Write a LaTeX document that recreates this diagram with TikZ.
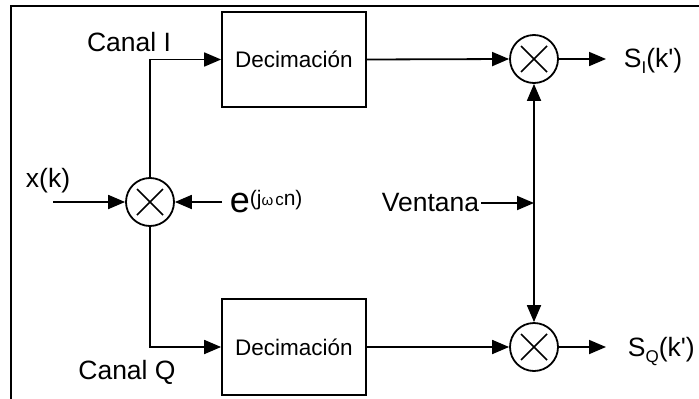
\documentclass[tikz,border=0pt]{standalone}
\usepackage{fontspec}
\setmainfont{Liberation Sans}
\usetikzlibrary{arrows.meta}
\begin{document}
\begin{tikzpicture}[x=1pt,y=-1pt, line width=1.8pt,
  >={Triangle[length=17pt,width=14pt]},
  blk/.style={draw, rectangle, minimum width=144pt, minimum height=95pt, inner sep=0pt, font=\fontsize{22.5}{26}\selectfont},
  mult/.style={draw, circle, minimum size=48pt, inner sep=0pt,
    path picture={\draw[line width=1.5pt] (path picture bounding box.center) +(-13pt,-13pt) -- +(13pt,13pt) +(-13pt,13pt) -- +(13pt,-13pt);}},
  lbl/.style={font=\fontsize{26.5}{30}\selectfont, inner sep=1pt}]
\useasboundingbox (0,0) rectangle (699,399);
% frame
\draw[line width=2.4pt] (11,405) -- (11,6) -- (705,6);
% blocks
\node[blk] (dec1) at (294,59.5) {Decimación};
\node[blk, minimum height=96pt] (dec2) at (294,347) {Decimación};
\node[mult] (m1) at (150,202) {};
\node[mult] (m2) at (534,59) {};
\node[mult] (m3) at (534,347) {};
% labels
\node[lbl] (cI) at (129,42) {Canal I};
\node[lbl] (cQ) at (127,372) {Canal Q};
\node[lbl] (xk) at (48,181) {x(k)};
\node[anchor=base west, inner sep=0pt] (elbl) at (229,212) {\fontsize{36}{40}\selectfont e\raisebox{7pt}{\fontsize{21}{24}\selectfont(j{\fontsize{15}{17}\selectfont ω}\hspace{2pt}{\fontsize{17}{19}\selectfont c}n)}};
\node[lbl, anchor=east] (vent) at (481,203) {Ventana};
\node[lbl, anchor=base west, inner sep=0pt] (si) at (623,67) {S\raisebox{-6pt}{\fontsize{17}{19}\selectfont I}(k\textquotesingle)};
\node[lbl, anchor=base west, inner sep=0pt] (sq) at (627,356) {S\raisebox{-6pt}{\fontsize{17}{19}\selectfont Q}(k\textquotesingle)};
% coordinates
\coordinate (xin) at (53,202);
\coordinate (ein) at (222,202);
\coordinate (vj) at (534,203);
\coordinate (oI) at (606,59);
\coordinate (oQ) at (606,347);
% connectors
\draw[->] (xin) -- (m1.west);
\draw[->] (ein) -- (m1.east);
\draw[->] (m1.north) |- (dec1.west);
\draw[->] (m1.south) |- (dec2.west);
\draw[->] (dec1.east) -- (m2.west);
\draw[->] (dec2.east) -- (m3.west);
\draw[->] (m2.east) -- (oI);
\draw[->] (m3.east) -- (oQ);
\draw[<->] (m2.south) -- (m3.north);
\draw[->] (vent.east) -- (vj);
\end{tikzpicture}
\end{document}
